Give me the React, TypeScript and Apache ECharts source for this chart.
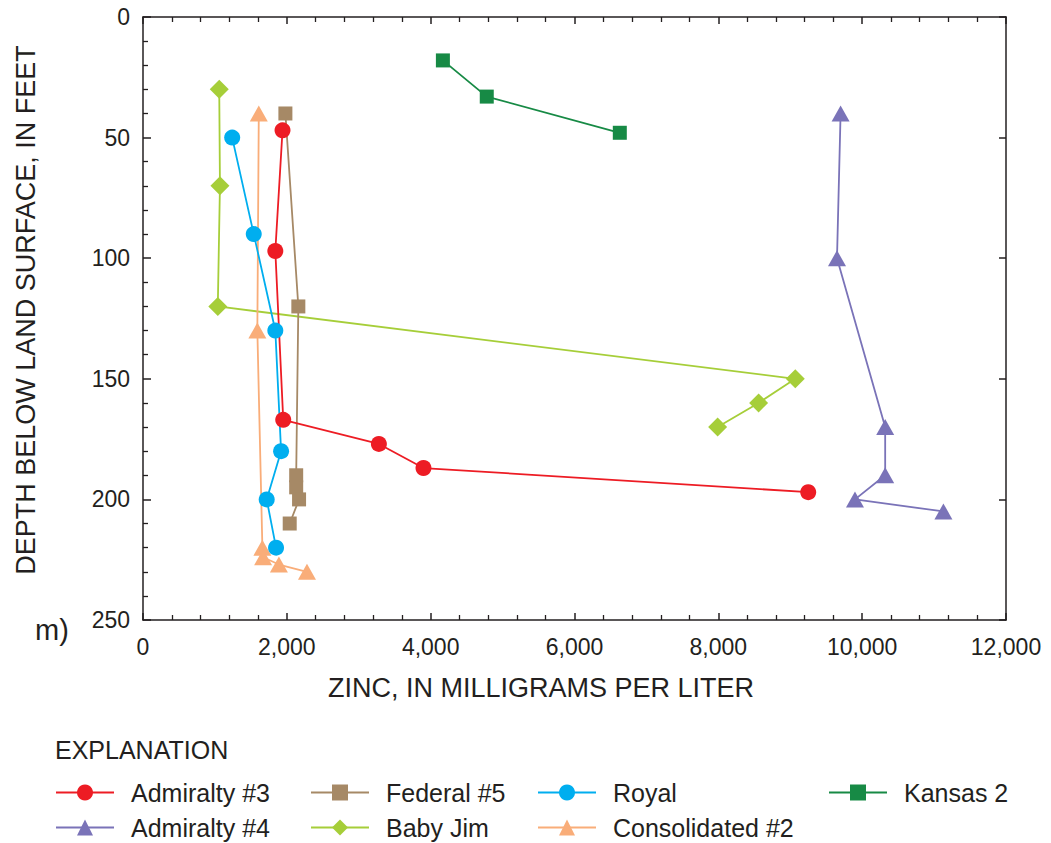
import React, { useEffect, useRef } from "react";
import * as echarts from "echarts";

const admiralty3 = [[1940, 47], [1840, 97], [1950, 167], [3280, 177], [3900, 187], [9250, 197]];
const admiralty4 = [[9700, 40], [9650, 100], [10320, 170], [10320, 190], [9900, 200], [11130, 205]];
const federal5 = [[1980, 40], [2160, 120], [2130, 190], [2130, 195], [2170, 200], [2040, 210]];
const babyJim = [[1060, 30], [1070, 70], [1040, 120], [9070, 150], [8560, 160], [7990, 170]];
const royal = [[1240, 50], [1540, 90], [1840, 130], [1920, 180], [1720, 200], [1850, 220]];
const consolidated2 = [[1610, 40], [1590, 130], [1660, 220], [1670, 224], [1890, 227], [2280, 230]];
const kansas2 = [[4170, 18], [4780, 33], [6630, 48]];

const FONT = "Liberation Sans, Arial, Helvetica, sans-serif";
const INK = "#231F20";

export default function App() {
  const ref = useRef<HTMLDivElement>(null);
  useEffect(() => {
    document.body.style.margin = "0";
    const chart = echarts.init(ref.current!, null, { renderer: "svg" });
    const mk = (name: string, data: number[][], color: string, symbol: string, size: any) => ({
      name,
      type: "line",
      data,
      symbol,
      symbolSize: size,
      xAxisIndex: 0,
      yAxisIndex: 0,
      lineStyle: { color, width: 1.8 },
      itemStyle: { color },
      emphasis: { disabled: true },
    });
    const axisCommon = {
      type: "value",
      axisLine: { show: true, onZero: false, lineStyle: { color: INK, width: 1.5 } },
      splitLine: { show: false },
    };
    const legendCommon = {
      orient: "vertical",
      top: 780,
      height: 90,
      padding: 0,
      itemWidth: 58,
      itemHeight: 20,
      itemGap: 10,
      selectedMode: false,
      textStyle: { fontFamily: FONT, fontSize: 25, color: INK, lineHeight: 23, padding: [0, 0, 0, 12] },
    };
    chart.setOption({
      animation: false,
      textStyle: { fontFamily: FONT },
      grid: { left: 143, right: 45, top: 17, bottom: 223 },
      xAxis: [
        {
          ...axisCommon,
          position: "bottom",
          min: 0,
          max: 12000,
          interval: 2000,
          axisTick: { show: true, inside: true, length: 7, lineStyle: { color: INK, width: 1.5 } },
          minorTick: { show: true, splitNumber: 5, length: 5, lineStyle: { color: INK, width: 1.3 } },
          axisLabel: {
            fontSize: 23,
            color: INK,
            margin: 15,
            fontFamily: FONT,
            formatter: (v: number) => v.toLocaleString("en-US"),
          },
        },
        {
          ...axisCommon,
          position: "top",
          min: 0,
          max: 12000,
          interval: 2000,
          axisTick: { show: true, inside: true, length: 7, lineStyle: { color: INK, width: 1.5 } },
          minorTick: { show: true, splitNumber: 5, length: 5, lineStyle: { color: INK, width: 1.3 } },
          axisLabel: { show: false },
        },
      ],
      yAxis: [
        {
          ...axisCommon,
          position: "left",
          inverse: true,
          min: 0,
          max: 250,
          interval: 50,
          axisTick: { show: true, inside: true, length: 8, lineStyle: { color: INK, width: 1.5 } },
          minorTick: { show: true, splitNumber: 5, length: 5, lineStyle: { color: INK, width: 1.3 } },
          axisLabel: { fontSize: 23, color: INK, margin: 13, fontFamily: FONT },
        },
        {
          ...axisCommon,
          position: "right",
          inverse: true,
          min: 0,
          max: 250,
          interval: 50,
          axisTick: { show: true, inside: true, length: 7, lineStyle: { color: INK, width: 1.5 } },
          axisLabel: { show: false },
        },
      ],
      legend: [
        { ...legendCommon, left: 55, data: ["Admiralty #3", "Admiralty #4"] },
        { ...legendCommon, left: 310, data: ["Federal #5", "Baby Jim"] },
        { ...legendCommon, left: 537, data: ["Royal", "Consolidated #2"] },
        { ...legendCommon, left: 828, data: ["Kansas 2"] },
      ],
      graphic: [
        {
          type: "text",
          x: 26,
          y: 310,
          rotation: Math.PI / 2,
          style: {
            text: "DEPTH BELOW LAND SURFACE, IN FEET",
            fontSize: 27,
            fontFamily: FONT,
            fill: INK,
            align: "center",
            verticalAlign: "middle",
          },
        },
        {
          type: "text",
          x: 541,
          y: 688,
          style: {
            text: "ZINC, IN MILLIGRAMS PER LITER",
            fontSize: 27,
            fontFamily: FONT,
            fill: INK,
            align: "center",
            verticalAlign: "middle",
          },
        },
        {
          type: "text",
          x: 35,
          y: 630,
          style: { text: "m)", fontSize: 29, fontFamily: FONT, fill: INK, align: "left", verticalAlign: "middle" },
        },
        {
          type: "text",
          x: 55,
          y: 750,
          style: { text: "EXPLANATION", fontSize: 25, fontFamily: FONT, fill: INK, align: "left", verticalAlign: "middle" },
        },
      ],
      series: [
        mk("Kansas 2", kansas2, "#178A45", "rect", 14),
        mk("Admiralty #4", admiralty4, "#7A73B8", "triangle", [18, 16]),
        mk("Baby Jim", babyJim, "#A6CE39", "diamond", 19),
        mk("Federal #5", federal5, "#A68966", "rect", 14),
        mk("Consolidated #2", consolidated2, "#F9AD79", "triangle", [18, 16]),
        mk("Royal", royal, "#00AEEF", "circle", 16),
        mk("Admiralty #3", admiralty3, "#ED1C24", "circle", 16),
      ],
    });
    return () => chart.dispose();
  }, []);
  return <div ref={ref} style={{ width: 1051, height: 843 }} />;
}
